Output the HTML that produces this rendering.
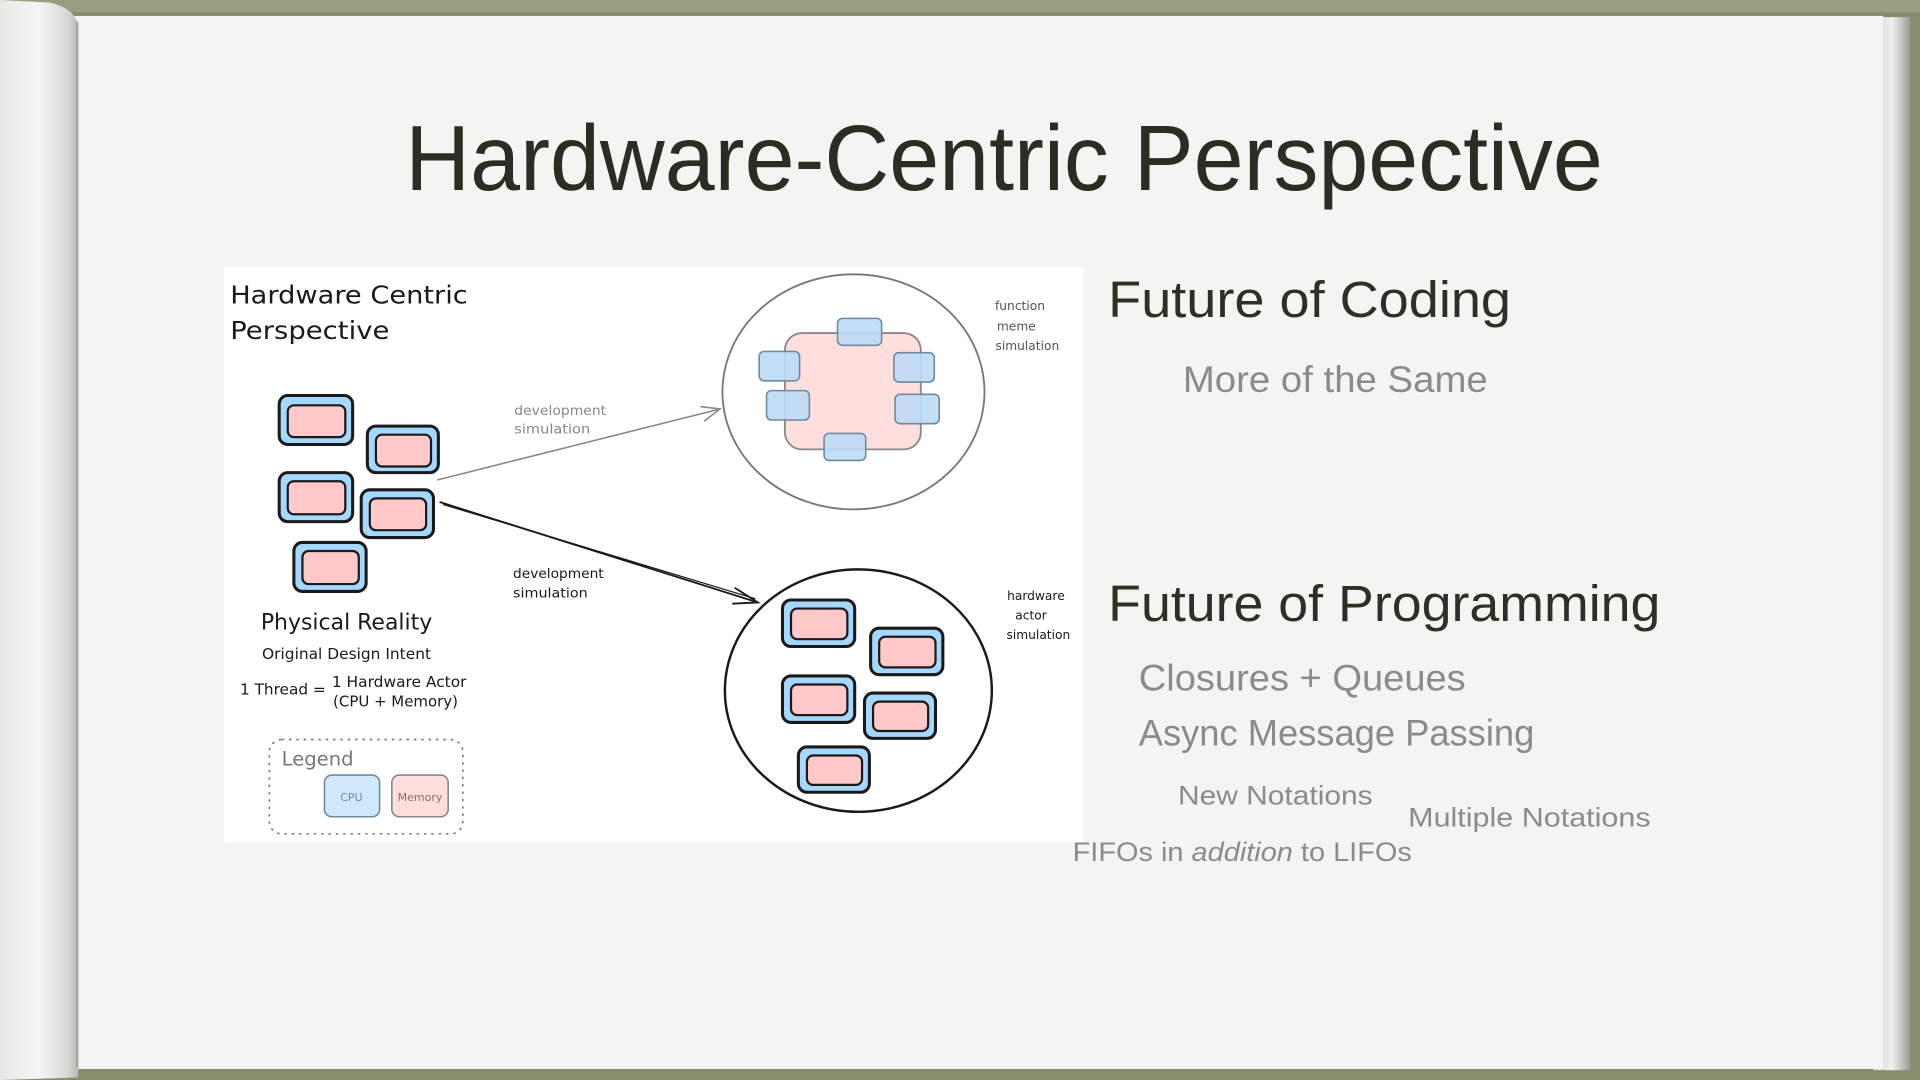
<!DOCTYPE html>
<html><head><meta charset="utf-8"><style>
html,body{margin:0;padding:0;width:1920px;height:1080px;overflow:hidden;background:#878c6c}
svg{display:block}
</style></head><body>
<svg width="1920" height="1080" viewBox="0 0 1568 882" preserveAspectRatio="none" xmlns="http://www.w3.org/2000/svg">
<defs>
<linearGradient id="curl" x1="0" x2="1" y1="0" y2="0">
<stop offset="0" stop-color="#e8e8e6"/><stop offset="0.5" stop-color="#f4f4f2"/><stop offset="0.85" stop-color="#d9d9d6"/><stop offset="1" stop-color="#b8b8b4"/>
</linearGradient>
<linearGradient id="edge" x1="0" x2="1"><stop offset="0" stop-color="#d0d0cc"/><stop offset="0.5" stop-color="#f0f0ee"/><stop offset="1" stop-color="#9a9a94"/></linearGradient>
</defs>
<rect width="1568" height="882" fill="#878c6c"/>
<rect x="0" y="0" width="1568" height="10" fill="#9a9e80"/>
<!-- right page stack -->
<rect x="1530" y="14" width="30" height="860" fill="url(#edge)"/>
<!-- page -->
<rect x="60" y="13" width="1478" height="860" fill="#f4f4f2"/>
<!-- left curl -->
<path d="M0 0 L40 2 Q60 6 64 20 L64 880 L0 882 Z" fill="url(#curl)"/>
<line x1="63" y1="18" x2="63" y2="872" stroke="#a9a9a4" stroke-width="2"/>

<text x="820" y="155" text-anchor="middle" font-family="Liberation Sans, sans-serif" font-size="76" fill="#2b2c22" textLength="978" lengthAdjust="spacingAndGlyphs">Hardware-Centric Perspective</text>

<!-- diagram -->
<rect x="183" y="218" width="702" height="470" fill="#ffffff"/>
<g font-family="DejaVu Sans, sans-serif" fill="#1a1a1a">
<text x="188" y="248" font-size="20" textLength="194" lengthAdjust="spacingAndGlyphs">Hardware Centric</text>
<text x="188" y="277" font-size="20" textLength="130" lengthAdjust="spacingAndGlyphs">Perspective</text>
<text x="283" y="514" font-size="18" text-anchor="middle" textLength="140" lengthAdjust="spacingAndGlyphs">Physical Reality</text>
<text x="283" y="538" font-size="12" text-anchor="middle" textLength="138" lengthAdjust="spacingAndGlyphs">Original Design Intent</text>
<text x="196" y="567" font-size="12" textLength="70" lengthAdjust="spacingAndGlyphs">1 Thread =</text>
<text x="271" y="561" font-size="12" textLength="110" lengthAdjust="spacingAndGlyphs">1 Hardware Actor</text>
<text x="272" y="577" font-size="12" textLength="102" lengthAdjust="spacingAndGlyphs">(CPU + Memory)</text>
<text x="420" y="339" font-size="11" fill="#888" textLength="75" lengthAdjust="spacingAndGlyphs">development</text>
<text x="420" y="354" font-size="11" fill="#888" textLength="62" lengthAdjust="spacingAndGlyphs">simulation</text>
<text x="419" y="472" font-size="11" textLength="74" lengthAdjust="spacingAndGlyphs">development</text>
<text x="419" y="488" font-size="11" textLength="61" lengthAdjust="spacingAndGlyphs">simulation</text>
<text x="833" y="253" font-size="10" fill="#555" text-anchor="middle">function</text>
<text x="830" y="270" font-size="10" fill="#555" text-anchor="middle">meme</text>
<text x="839" y="286" font-size="10" fill="#555" text-anchor="middle">simulation</text>
<text x="846" y="490" font-size="10" text-anchor="middle">hardware</text>
<text x="842" y="506" font-size="10" text-anchor="middle">actor</text>
<text x="848" y="522" font-size="10" text-anchor="middle">simulation</text>
</g>
<!-- left boxes -->
<g stroke="#1a1a1a" stroke-width="2.5">
<rect x="228" y="323" width="60" height="40" rx="7" fill="#a5d8ff"/><rect x="235" y="331" width="47" height="26" rx="5" fill="#ffc9c9" stroke-width="1.8"/>
<rect x="300" y="348" width="58" height="38" rx="7" fill="#a5d8ff"/><rect x="307" y="355" width="45" height="26" rx="5" fill="#ffc9c9" stroke-width="1.8"/>
<rect x="228" y="386" width="60" height="40" rx="7" fill="#a5d8ff"/><rect x="235" y="393" width="47" height="27" rx="5" fill="#ffc9c9" stroke-width="1.8"/>
<rect x="295" y="400" width="59" height="39" rx="7" fill="#a5d8ff"/><rect x="302" y="407" width="46" height="26" rx="5" fill="#ffc9c9" stroke-width="1.8"/>
<rect x="240" y="443" width="59" height="40" rx="7" fill="#a5d8ff"/><rect x="247" y="450" width="46" height="27" rx="5" fill="#ffc9c9" stroke-width="1.8"/>
</g>
<!-- arrows -->
<line x1="357" y1="392" x2="588" y2="334" stroke="#888" stroke-width="1.3"/>
<path d="M572 332 L588 334 L575 344" fill="none" stroke="#888" stroke-width="1.3"/>
<line x1="359" y1="410" x2="619" y2="492" stroke="#1a1a1a" stroke-width="1.5"/>
<line x1="362" y1="412" x2="617" y2="489" stroke="#1a1a1a" stroke-width="1"/>
<path d="M600 480 L619 492 L598 493" fill="none" stroke="#1a1a1a" stroke-width="1.5"/>
<!-- top circle -->
<ellipse cx="697" cy="320" rx="107" ry="96" fill="#fff" stroke="#777" stroke-width="1.5"/>
<rect x="641" y="272" width="111" height="95" rx="14" fill="#ffdede" stroke="#888" stroke-width="1.5"/>
<g fill="#bcdcf5" fill-opacity="0.9" stroke="#6e8aa0" stroke-width="1.3">
<rect x="684" y="260" width="36" height="22" rx="4"/>
<rect x="620" y="287" width="33" height="24" rx="4"/>
<rect x="730" y="288" width="33" height="24" rx="4"/>
<rect x="626" y="319" width="35" height="24" rx="4"/>
<rect x="731" y="322" width="36" height="24" rx="4"/>
<rect x="673" y="354" width="34" height="22" rx="4"/>
</g>
<!-- bottom circle -->
<ellipse cx="701" cy="564" rx="109" ry="99" fill="#fff" stroke="#1a1a1a" stroke-width="2"/>
<g stroke="#1a1a1a" stroke-width="2.5">
<rect x="639" y="490" width="59" height="38" rx="7" fill="#a5d8ff"/><rect x="646" y="497" width="46" height="25" rx="5" fill="#ffc9c9" stroke-width="1.8"/>
<rect x="711" y="513" width="59" height="38" rx="7" fill="#a5d8ff"/><rect x="718" y="520" width="46" height="25" rx="5" fill="#ffc9c9" stroke-width="1.8"/>
<rect x="639" y="552" width="59" height="38" rx="7" fill="#a5d8ff"/><rect x="646" y="559" width="46" height="25" rx="5" fill="#ffc9c9" stroke-width="1.8"/>
<rect x="706" y="566" width="58" height="37" rx="7" fill="#a5d8ff"/><rect x="713" y="573" width="45" height="24" rx="5" fill="#ffc9c9" stroke-width="1.8"/>
<rect x="652" y="610" width="58" height="37" rx="7" fill="#a5d8ff"/><rect x="659" y="617" width="45" height="24" rx="5" fill="#ffc9c9" stroke-width="1.8"/>
</g>
<!-- legend -->
<rect x="220" y="604" width="158" height="77" rx="10" fill="none" stroke="#777" stroke-width="1.3" stroke-dasharray="2 4"/>
<text x="230" y="625" font-family="DejaVu Sans, sans-serif" font-size="16" fill="#777">Legend</text>
<rect x="265" y="633" width="45" height="34" rx="6" fill="#cfe8fb" stroke="#6e8aa0" stroke-width="1.3"/>
<rect x="320" y="633" width="46" height="34" rx="6" fill="#ffdede" stroke="#888" stroke-width="1.3"/>
<text x="287" y="654" font-family="DejaVu Sans, sans-serif" font-size="9" fill="#6e8aa0" text-anchor="middle">CPU</text>
<text x="343" y="654" font-family="DejaVu Sans, sans-serif" font-size="9" fill="#8a6a6a" text-anchor="middle">Memory</text>

<!-- right text -->
<g font-family="Liberation Sans, sans-serif">
<text x="905" y="259" font-size="42" fill="#2f3025" textLength="329" lengthAdjust="spacingAndGlyphs">Future of Coding</text>
<text x="966" y="320" font-size="30" fill="#8c8c86" textLength="249" lengthAdjust="spacingAndGlyphs">More of the Same</text>
<text x="905" y="507" font-size="42" fill="#2f3025" textLength="451" lengthAdjust="spacingAndGlyphs">Future of Programming</text>
<text x="930" y="564" font-size="30" fill="#8c8c86" textLength="267" lengthAdjust="spacingAndGlyphs">Closures + Queues</text>
<text x="930" y="609" font-size="30" fill="#8c8c86" textLength="323" lengthAdjust="spacingAndGlyphs">Async Message Passing</text>
<text x="962" y="657" font-size="22" fill="#8c8c86" textLength="159" lengthAdjust="spacingAndGlyphs">New Notations</text>
<text x="1150" y="675" font-size="22" fill="#8c8c86" textLength="198" lengthAdjust="spacingAndGlyphs">Multiple Notations</text>
<text x="876" y="703" font-size="22" fill="#8c8c86" textLength="277" lengthAdjust="spacingAndGlyphs">FIFOs in <tspan font-style="italic">addition</tspan> to LIFOs</text>
</g>
</svg>
</body></html>
